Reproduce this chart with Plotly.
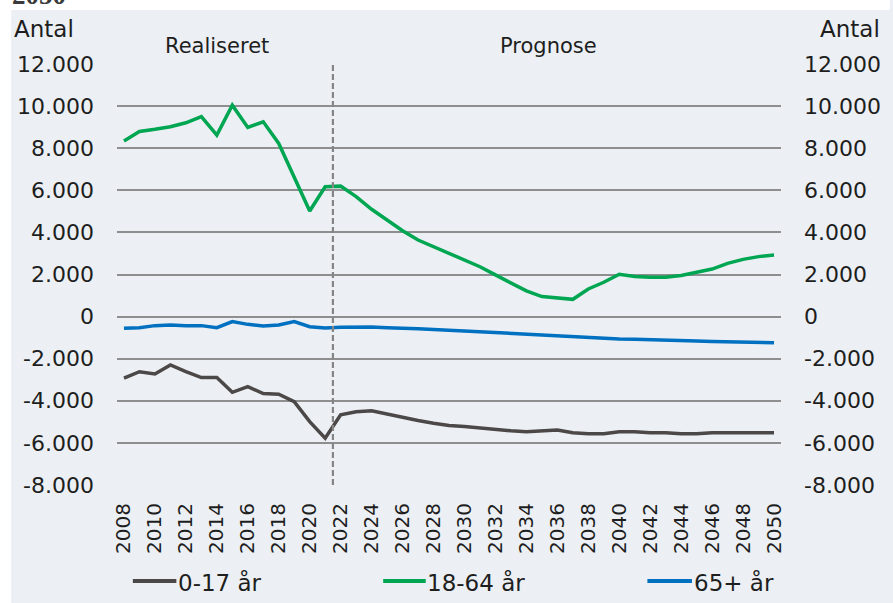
import plotly.graph_objects as go

years = list(range(2008, 2051))

age_0_17 = [-2930, -2620, -2730, -2300, -2620, -2900, -2900, -3600, -3330, -3660,
            -3690, -4040, -4990, -5780, -4670, -4520, -4480, -4640, -4790, -4940,
            -5070, -5180, -5230, -5310, -5390, -5430, -5470, -5420, -5390, -5520,
            -5570, -5570, -5470, -5470, -5520, -5520, -5570, -5570, -5520, -5520,
            -5520, -5520, -5520]

age_18_64 = [8350, 8800, 8900, 9020, 9210, 9500, 8630, 10050, 8990, 9260,
             8230, 6650, 5020, 6170, 6200, 5700, 5100, 4590, 4080, 3640,
             3320, 3010, 2690, 2370, 1980, 1580, 1220, 950, 900, 820,
             1310, 1630, 2010, 1900, 1870, 1870, 1950, 2090, 2260, 2530,
             2720, 2850, 2930]

age_65_plus = [-560, -530, -430, -400, -430, -430, -530, -240, -370, -450,
               -400, -240, -480, -540, -510, -500, -500, -530, -540, -580,
               -610, -650, -680, -720, -750, -780, -860, -870, -900, -950,
               -990, -1030, -1060, -1080, -1110, -1110, -1140, -1160, -1180, -1190,
               -1210, -1240, -1240]

series_names = ["0-17 år", "18-64 år", "65+ år"]
series_colors = ["#4B4847", "#00A651", "#0070C0"]

y_tickvals = [12000, 10000, 8000, 6000, 4000, 2000, 0, -2000, -4000, -6000, -8000]
y_ticktext = ["12.000", "10.000", "8.000", "6.000", "4.000", "2.000", "0",
              "-2.000", "-4.000", "-6.000", "-8.000"]
x_tickvals = list(range(2008, 2051, 2))
x_ticktext = [str(v) for v in x_tickvals]

forecast_start = 2021.5
period_labels = ["Realiseret", "Prognose"]
axis_title = "Antal"

# layout geometry (pixels)
W, H = 893, 603
PX0, PX1, PY0, PY1 = 117, 788, 64, 485
L, R, T, B = PX0, W - PX1, PY0, H - PY1
PW = PX1 - PX0
PH = PY1 - PY0


def px_x(px):
    return (px - PX0) / PW


def px_y(py):
    return (PY1 - py) / PH


PANEL = "#ECF0F4"
GRID = "#8E8E8E"
TXT = "#1E1E1E"
FONT = "DejaVu Sans"

fig = go.Figure()
for name, vals, col in zip(series_names, [age_0_17, age_18_64, age_65_plus], series_colors):
    fig.add_trace(go.Scatter(x=years, y=vals, mode="lines", name=name,
                             line=dict(color=col, width=3.5), showlegend=False))

# invisible trace on the right axis so it is drawn
fig.add_trace(go.Scatter(x=years, y=age_18_64, mode="lines", yaxis="y2",
                         line=dict(width=0), opacity=0, showlegend=False,
                         hoverinfo="skip"))

yr = [-8005, 12005]
fig.update_layout(
    width=W, height=H, autosize=False,
    margin=dict(l=L, r=R, t=T, b=B),
    paper_bgcolor=PANEL, plot_bgcolor=PANEL,
    font=dict(family=FONT, color=TXT),
    showlegend=False,
    xaxis=dict(range=[2007.55, 2050.45], tickvals=x_tickvals, ticktext=x_ticktext,
               tickangle=-90, tickfont=dict(size=20, color=TXT), showgrid=False,
               zeroline=False, showline=False, ticks="", ticklabelstandoff=13),
    yaxis=dict(range=yr, tickvals=y_tickvals, ticktext=y_ticktext,
               tickfont=dict(size=22, color=TXT), showgrid=True, gridcolor=GRID,
               gridwidth=1.6, zeroline=False, showline=False, ticks="",
               ticklabelstandoff=22),
    yaxis2=dict(range=yr, tickvals=y_tickvals, ticktext=y_ticktext, overlaying="y",
                side="right", tickfont=dict(size=22, color=TXT), showgrid=False,
                zeroline=False, showline=False, ticks="", ticklabelstandoff=22),
)

# legend (keys + labels) along the bottom
legend_key_x = [(133, 177), (386, 429), (653, 698)]
legend_text_x = [180, 431, 701]
LEG_Y = 581
for name, col, (k0, k1), tx in zip(series_names, series_colors, legend_key_x, legend_text_x):
    fig.add_shape(type="line", xref="paper", yref="paper", x0=px_x(k0), x1=px_x(k1),
                  y0=px_y(LEG_Y), y1=px_y(LEG_Y), line=dict(color=col, width=4))
    fig.add_annotation(text=name, xref="paper", yref="paper", x=px_x(tx - 3),
                       y=px_y(LEG_Y + 1), xanchor="left", yanchor="middle",
                       showarrow=False, font=dict(size=23, color=TXT))

# forecast divider
fig.add_shape(type="line", xref="x", yref="paper", x0=forecast_start, x1=forecast_start,
              y0=0, y1=1, line=dict(color="#858585", width=2.2, dash="6px,3px"))

# white margin around the panel
fig.add_shape(type="rect", xref="paper", yref="paper", x0=px_x(-5), x1=px_x(10),
              y0=px_y(H + 5), y1=px_y(-5), fillcolor="white", line=dict(width=0))
fig.add_shape(type="rect", xref="paper", yref="paper", x0=px_x(-5), x1=px_x(W + 5),
              y0=px_y(10), y1=px_y(-5), fillcolor="white", line=dict(width=0))

# cut-off title remnant
fig.add_annotation(text="<b>2050</b>", xref="paper", yref="paper", x=px_x(9), y=px_y(12),
                   xanchor="left", yanchor="bottom", showarrow=False,
                   font=dict(family="Liberation Serif", size=27, color="#3A3A3A"))

# axis titles
fig.add_annotation(text=axis_title, xref="paper", yref="paper", x=px_x(11), y=px_y(29),
                   xanchor="left", yanchor="middle", showarrow=False,
                   font=dict(size=23, color=TXT))
fig.add_annotation(text=axis_title, xref="paper", yref="paper", x=px_x(890), y=px_y(29),
                   xanchor="right", yanchor="middle", showarrow=False,
                   font=dict(size=23, color=TXT))

# period labels
for lbl, cx in zip(period_labels, [218, 553]):
    fig.add_annotation(text=lbl, xref="paper", yref="paper", x=px_x(cx), y=px_y(46),
                       xanchor="center", yanchor="middle", showarrow=False,
                       font=dict(size=21, color=TXT))

fig.write_html("out.html",
               config={"responsive": False, "displayModeBar": False},
               post_script="document.body.style.margin='0';document.body.style.overflow='hidden';")
